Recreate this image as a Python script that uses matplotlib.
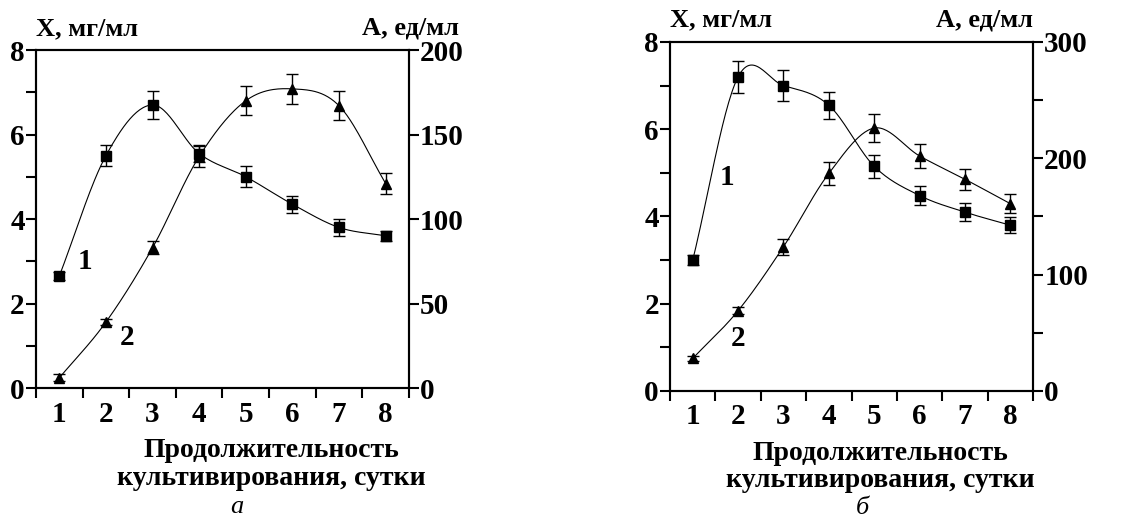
"""Два графика: биомасса (X) и активность (A) в зависимости от времени культивирования."""

import matplotlib.pyplot as plt
import numpy as np

days = [1, 2, 3, 4, 5, 6, 7, 8]

# панель а
x_a = [2.65, 5.5, 6.7, 5.55, 5.0, 4.35, 3.8, 3.6]
x_a_err = [0.1, 0.25, 0.34, 0.2, 0.25, 0.2, 0.2, 0.12]
act_a = [6, 39, 83, 137, 170, 177, 167, 121]
act_a_err = [2, 2, 4, 6, 8.5, 9, 8.5, 6]

# панель б
x_b = [3.0, 7.2, 7.0, 6.55, 5.15, 4.48, 4.1, 3.8]
x_b_err = [0.12, 0.36, 0.36, 0.31, 0.26, 0.22, 0.2, 0.18]
act_b = [28, 69, 124, 187, 226, 202, 182, 161]
act_b_err = [2, 3, 7, 10, 12, 10, 9, 8]

FONT = "Liberation Serif"


def smooth(xs, ys, n=30):
    """Catmull-Rom curve through the points (only for drawing the line)."""
    x = np.asarray(xs, float)
    y = np.asarray(ys, float)
    m = len(x)
    d = np.empty(m)
    d[1:-1] = (y[2:] - y[:-2]) / (x[2:] - x[:-2])
    d[0] = (y[1] - y[0]) / (x[1] - x[0])
    d[-1] = (y[-1] - y[-2]) / (x[-1] - x[-2])
    out_x, out_y = [], []
    t = np.linspace(0, 1, n)
    h00 = 2 * t**3 - 3 * t**2 + 1
    h10 = t**3 - 2 * t**2 + t
    h01 = -2 * t**3 + 3 * t**2
    h11 = t**3 - t**2
    for i in range(m - 1):
        h = x[i + 1] - x[i]
        out_x.append(x[i] + t * h)
        out_y.append(h00 * y[i] + h10 * h * d[i] + h01 * y[i + 1] + h11 * h * d[i + 1])
    return np.concatenate(out_x), np.concatenate(out_y)


def panel(fig, rect, x_val, x_err, a_val, a_err, a_max, a_ticks, a_labels,
          lbl1, lbl2, letter, letter_pos, title_right_x, xlabel_pos):
    ax = fig.add_axes(rect)
    ax2 = ax.twinx()
    tk = dict(family=FONT, weight="bold", size=21)

    # кривая 1 — X
    sx, sy = smooth(days, x_val)
    ax.plot(sx, sy, color="black", lw=0.8)
    ax.errorbar(days, x_val, yerr=x_err, fmt="s", color="black", ms=7,
                elinewidth=1.0, capsize=4.5, capthick=1.0)

    # кривая 2 — A
    sx, sy = smooth(days, a_val)
    ax2.plot(sx, sy, color="black", lw=0.8)
    ax2.errorbar(days, a_val, yerr=a_err, fmt="^", color="black", ms=7,
                 elinewidth=1.0, capsize=4.5, capthick=1.0)

    ax.set_xlim(0.5, 8.5)
    ax.set_ylim(0, 8)
    ax2.set_ylim(0, a_max)

    ax.set_xticks(np.arange(0.5, 9.0, 1.0))
    ax.set_xticklabels([])
    ax.set_xticks(days, minor=True)
    ax.set_xticklabels([str(d) for d in days], minor=True, **tk)
    ax.tick_params(axis="x", which="minor", length=0, pad=9)
    ax.tick_params(axis="x", which="major", length=7, width=1.5, direction="out")

    ax.set_yticks(range(9))
    ax.set_yticklabels([str(v) if v % 2 == 0 else "" for v in range(9)], **tk)
    ax.tick_params(axis="y", length=7, width=1.5, direction="out", pad=1)

    ax2.set_yticks(a_ticks)
    ax2.set_yticklabels(a_labels, **tk)
    ax2.tick_params(axis="y", length=7, width=1.5, direction="out", pad=1)

    for a in (ax, ax2):
        for s in a.spines.values():
            s.set_linewidth(1.5)

    # подписи
    ax.text(0.0, 1.03, "X, мг/мл", transform=ax.transAxes, ha="left",
            va="bottom", family=FONT, weight="bold", size=19)
    ax.text(title_right_x, 1.03, "A, ед/мл", transform=ax.transAxes,
            ha="right", va="bottom", family=FONT, weight="bold", size=19)
    ax.text(lbl1[0], lbl1[1], "1", family=FONT, weight="bold", size=21,
            ha="center", va="center")
    ax.text(lbl2[0], lbl2[1], "2", family=FONT, weight="bold", size=21,
            ha="center", va="center")
    ax.text(xlabel_pos[0], xlabel_pos[1], "Продолжительность\nкультивирования, сутки",
            transform=ax.transAxes, ha="center", va="top", family=FONT,
            weight="bold", size=20, linespacing=1.15)
    ax.text(letter_pos[0], letter_pos[1], letter, transform=ax.transAxes,
            ha="center", va="center", family=FONT, style="italic", size=19)
    return ax


fig = plt.figure(figsize=(11.28, 5.22), dpi=100)

panel(fig, [0.0319, 0.2567, 0.3307, 0.6475], x_a, x_a_err, act_a, act_a_err,
      200, [0, 50, 100, 150, 200], ["0", "50", "100", "150", "200"],
      (1.55, 3.0), (2.45, 1.2), "а", (0.539, -0.352), 1.135, (0.63, -0.147))

panel(fig, [0.594, 0.2510, 0.3218, 0.6686], x_b, x_b_err, act_b, act_b_err,
      300, [0, 50, 100, 150, 200, 250, 300], ["0", "", "100", "", "200", "", "300"],
      (1.75, 4.9), (2.0, 1.2), "б", (0.53, -0.335), 1.0, (0.58, -0.142))

fig.savefig("out.png", dpi=100, facecolor="white")
